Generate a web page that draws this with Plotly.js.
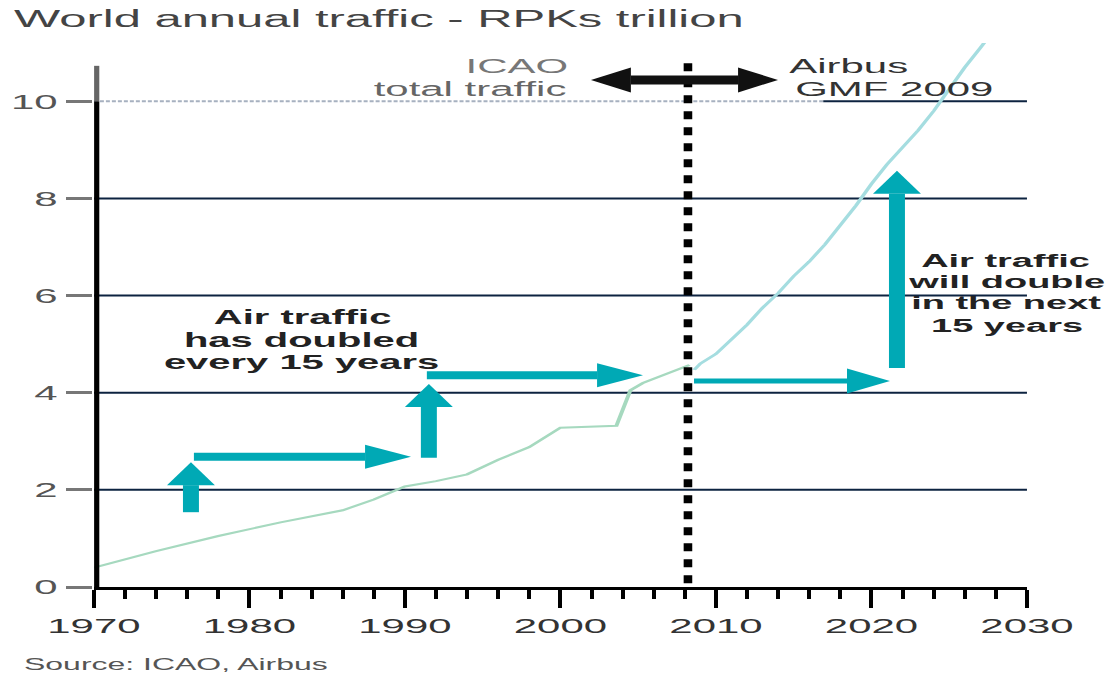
<!DOCTYPE html>
<html><head><meta charset="utf-8">
<script src="https://cdn.plot.ly/plotly-3.0.1.min.js"></script>
<style>
html,body{margin:0;padding:0;overflow:hidden;background:#fff;}
#wrap{width:558px;height:677px;transform:scaleX(1.998);transform-origin:0 0;}
</style></head><body><div id="wrap"></div>
<script>
// ---- data ----
const histYears  = [1970,1974,1978,1982,1986,1988,1990,1992,1994,1996,1998,2000,2003.6,2004.5,2005.3,2007,2008.3];
const histValues = [0.40,0.74,1.05,1.33,1.58,1.80,2.07,2.18,2.32,2.62,2.88,3.28,3.32,4.05,4.20,4.42,4.57];
const projYears  = [2008.6,2009,2010,2011,2012,2013,2014,2015,2016,2017,2018,2019,2020,2021,2022,2023,2024,2025,2026,2027,2027.6];
const projValues = [4.47,4.60,4.80,5.10,5.40,5.75,6.05,6.40,6.70,7.05,7.45,7.85,8.30,8.70,9.05,9.40,9.80,10.25,10.70,11.10,11.35];
const yTickVals  = [0,2,4,6,8,10];
const yTickText  = ['0','2','4','6','8','10'];
const xTickVals  = [1970,1980,1990,2000,2010,2020,2030];
const xTickText  = ['1970','1980','1990','2000','2010','2020','2030'];
const forecastStartYear = 2008.2;
const growthArrows = [[1976.24,1.54,1976.24,2.57],[1976.43,2.68,1990.39,2.68],[1991.54,2.66,1991.54,4.18],[1991.41,4.36,2005.31,4.36],[2021.64,4.51,2021.64,8.57]];
const nextArrow = [2008.59,4.24,2021.19,4.24];
const periodArrow = [2001.96,10.44,2013.99,10.44];
const dottedGridEnd = 2016.9;
const pastText = ['Air traffic','has doubled','every 15 years'];
const pastTextY = [5.56,5.09,4.63];
const futureText = ['Air traffic','will double','in the next','15 years'];
const futureTextY = [6.73,6.28,5.85,5.39];

// ---- layout geometry ----
const W = 558, H = 677, M = {l:47, r:44, t:43, b:90};
const XR = [1970,2030], YR = [0,11.2];
const PX = (W - M.l - M.r) / (XR[1]-XR[0]);
const PY = (H - M.t - M.b) / (YR[1]-YR[0]);
const CYAN = '#00a9b5';

const shapes = [];
[2,4,6,8].forEach(v => shapes.push({type:'line', xref:'x', yref:'y', x0:1970, x1:2030, y0:v, y1:v, layer:'below', line:{color:'#0d2340', width:2}}));
shapes.push({type:'line', xref:'x', yref:'y', x0:1970, x1:dottedGridEnd, y0:10, y1:10, layer:'below', line:{color:'#a7b1c0', width:2, dash:'2px,1px'}});
shapes.push({type:'line', xref:'x', yref:'y', x0:dottedGridEnd, x1:2030, y0:10, y1:10, layer:'below', line:{color:'#0d2340', width:2}});
// y axis line (paper-referenced in x so it is not clipped at the plot edge)
shapes.push({type:'line', xref:'paper', yref:'y', x0:0.003, x1:0.003, y0:-0.04, y1:10, layer:'above', line:{color:'#000', width:2.6}});
shapes.push({type:'line', xref:'paper', yref:'y', x0:0.003, x1:0.003, y0:10, y1:10.73, layer:'above', line:{color:'#666', width:2.6}});
// forecast divider
shapes.push({type:'line', xref:'x', yref:'y', x0:forecastStartYear, x1:forecastStartYear, y0:-0.25, y1:10.81, layer:'above', line:{color:'#000', width:4.3, dash:'8px,8px'}});

function head(tx,ty,fx,fy,len,w,color){
  const dx=(tx-fx)*PX, dy=(ty-fy)*PY, L=Math.hypot(dx,dy);
  const ux=dx/L, uy=dy/L;
  const bx=tx*PX-ux*len, by=ty*PY-uy*len;
  const p1=[(bx-uy*w/2)/PX,(by+ux*w/2)/PY], p2=[(bx+uy*w/2)/PX,(by-ux*w/2)/PY];
  shapes.push({type:'path', xref:'x', yref:'y', layer:'above', fillcolor:color, line:{width:0},
    path:'M'+tx+','+ty+' L'+p1[0]+','+p1[1]+' L'+p2[0]+','+p2[1]+' Z'});
  return [bx/PX, by/PY];
}
function arrow(a, shaft, len, w, color){
  const b = head(a[2],a[3],a[0],a[1],len,w,color);
  shapes.push({type:'line', xref:'x', yref:'y', layer:'above', x0:a[0], y0:a[1], x1:b[0], y1:b[1], line:{color:color, width:shaft}});
}
growthArrows.forEach(a => arrow(a, 8, 23, 24, CYAN));
arrow(nextArrow, 5, 21.5, 25, CYAN);
(function(){
  const a = periodArrow;
  const b1 = head(a[2],a[3],a[0],a[1],20,25,'#111');
  const b0 = head(a[0],a[1],a[2],a[3],20,25,'#111');
  shapes.push({type:'line', xref:'x', yref:'y', layer:'above', x0:b0[0], y0:b0[1], x1:b1[0], y1:b1[1], line:{color:'#111', width:9}});
})();

const annotations = [];
function txt(t,x,y,xa,size,color,bold){
  annotations.push({text: bold ? '<b>'+t+'</b>' : t, x:x, y:y, xref:'x', yref:'y', xanchor:xa, yanchor:'middle', showarrow:false, font:{size:size, color:color}});
}
txt('ICAO', 2000.67, 10.74, 'right', 21, '#777');
txt('total traffic', 2000.67, 10.27, 'right', 21, '#666');
txt('Airbus', 2014.5, 10.74, 'left', 21, '#333');
txt('GMF 2009', 2014.8, 10.27, 'left', 21, '#333');
pastText.forEach((t,i) => txt(t, 1983.4, pastTextY[i], 'center', 20, '#222', true));
futureText.forEach((t,i) => txt(t, 2028.7, futureTextY[i], 'center', 19, '#222', true));
annotations.push({text:'Source: ICAO, Airbus', xref:'paper', yref:'paper',
  x:(10-M.l)/(W-M.l-M.r), y:(587-664)/(H-M.t-M.b), xanchor:'left', yanchor:'middle',
  showarrow:false, font:{size:16, color:'#555'}});

const traces = [
  {type:'scatter', mode:'lines', x:histYears, y:histValues, line:{color:'#a6d9bf', width:2}, hoverinfo:'skip'},
  {type:'scatter', mode:'lines', x:projYears, y:projValues, line:{color:'#a5dde0', width:2}, hoverinfo:'skip'}
];

const layout = {
  width:W, height:H, margin:M, paper_bgcolor:'#fff', plot_bgcolor:'#fff', showlegend:false,
  font:{family:'"Liberation Sans", Arial, sans-serif', color:'#333'},
  title:{text:'World annual traffic - RPKs trillion', xref:'container', yref:'container',
    x:7/W, xanchor:'left', y:1-18.5/H, yanchor:'middle', font:{size:24.5, color:'#444'}},
  xaxis:{range:XR, tickmode:'array', tickvals:xTickVals, ticktext:xTickText, ticks:'outside', ticklen:18, tickwidth:2, tickcolor:'#000',
    showline:true, linecolor:'#000', linewidth:3, showgrid:false, zeroline:false, fixedrange:true,
    tickfont:{size:21, color:'#333'},
    minor:{tickmode:'linear', tick0:1970, dtick:2, ticks:'outside', ticklen:9, tickwidth:2, tickcolor:'#000', showgrid:false}},
  yaxis:{range:YR, tickmode:'array', tickvals:yTickVals, ticktext:yTickText, ticks:'outside', ticklen:13, tickwidth:3, tickcolor:'#777',
    showline:false, showgrid:false, zeroline:false, fixedrange:true, tickfont:{size:21, color:'#555'}},
  shapes:shapes, annotations:annotations
};
Plotly.newPlot('wrap', traces, layout, {displayModeBar:false, staticPlot:true});
</script></body></html>
